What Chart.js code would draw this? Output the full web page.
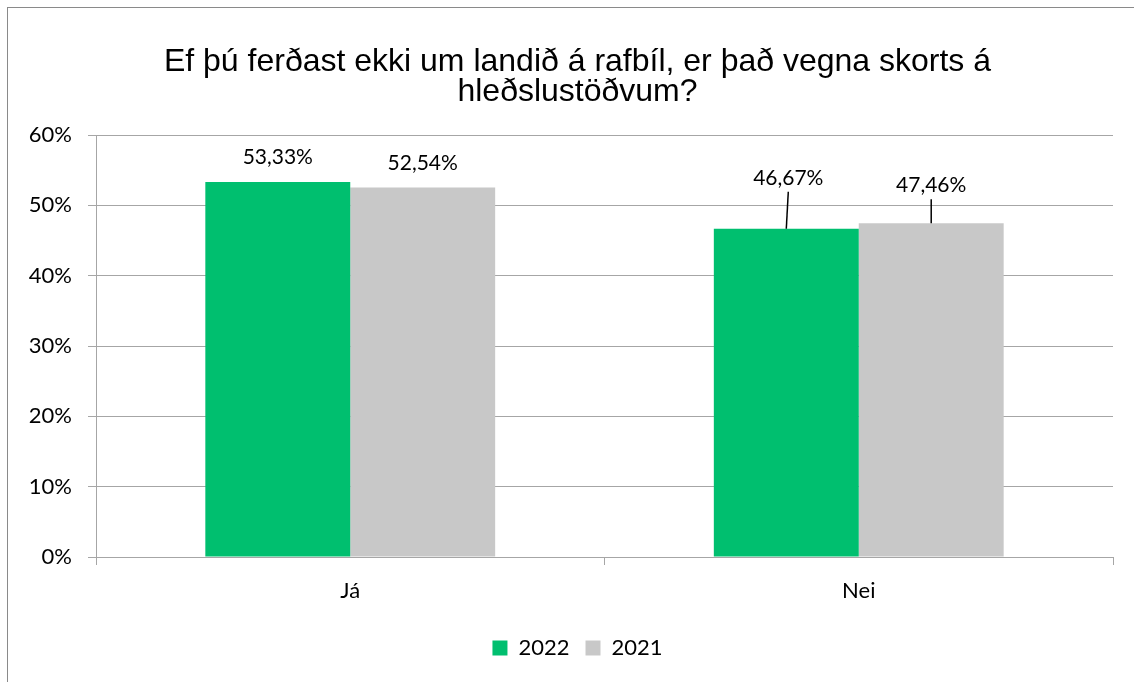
<!DOCTYPE html>
<html>
<head>
<meta charset="utf-8">
<script src="https://cdn.jsdelivr.net/npm/chart.js@4.4.1/dist/chart.umd.min.js"></script>
<style>
  html, body { margin: 0; padding: 0; background: #fff; overflow: hidden; }
  #frame { position: absolute; left: 7px; top: 7px; width: 1200px; height: 800px;
           border-top: 1px solid #8a8a8a; border-left: 1px solid #8a8a8a; }
  #chart { position: absolute; left: 0; top: 0; }
</style>
</head>
<body>
<div id="frame"></div>
<canvas id="chart" width="1134" height="682"></canvas>
<script>
const categories = ['Já', 'Nei'];
const values2022 = [53.33, 46.67];
const values2021 = [52.54, 47.46];
const yMax = 60;
const yStep = 10;
const titleLines = ['Ef þú ferðast ekki um landið á rafbíl, er það vegna skorts á', 'hleðslustöðvum?'];

const GREEN = '#00BF6F';
const GREY = '#C8C8C8';
const AXIS = '#A6A6A6';
const LABEL_FONT = 'Lato, "Open Sans", sans-serif';

// how far above the bar each value label sits (px), per dataset per category
const labelLift = [[25, 51], [24, 38]];
const labelShift = [[0, 2], [0, 0]];

const fmt = v => v.toFixed(2).replace('.', ',') + '%';

const valueLabels = {
  id: 'valueLabels',
  // the y scale box is narrow (so title/legend centre like the original); let its labels spill left
  afterLayout(chart) {
    chart.scales.y.left = 0;
  },
  afterDatasetsDraw(chart) {
    const ctx = chart.ctx;
    ctx.save();
    ctx.font = '21px ' + LABEL_FONT;
    ctx.fillStyle = '#000';
    ctx.textAlign = 'center';
    ctx.textBaseline = 'middle';
    chart.data.datasets.forEach((ds, di) => {
      chart.getDatasetMeta(di).data.forEach((bar, i) => {
        const lift = labelLift[di][i];
        const lx = bar.x + labelShift[di][i];
        const ly = bar.y - lift;
        ctx.fillText(fmt(ds.data[i]), lx, ly);
        if (lift > 30) {
          ctx.strokeStyle = '#000';
          ctx.lineWidth = 1.5;
          ctx.beginPath();
          ctx.moveTo(lx, ly + 14);
          ctx.lineTo(bar.x, bar.y);
          ctx.stroke();
        }
      });
    });
    ctx.restore();
  }
};

new Chart(document.getElementById('chart'), {
  type: 'bar',
  data: {
    labels: categories,
    datasets: [
      { label: '2022', data: values2022, backgroundColor: GREEN },
      { label: '2021', data: values2021, backgroundColor: GREY }
    ]
  },
  options: {
    responsive: false,
    animation: false,
    layout: { padding: { left: 42, right: 21, top: 0, bottom: 13 } },
    datasets: { bar: { categoryPercentage: 0.57, barPercentage: 1.0 } },
    scales: {
      x: {
        grid: { drawOnChartArea: false, drawTicks: true, tickLength: 8, color: AXIS, offset: true },
        border: { color: AXIS, width: 1 },
        ticks: { color: '#000', font: { family: LABEL_FONT, size: 22 }, padding: 13 },
        afterFit: s => { s.height = 64; }
      },
      y: {
        min: 0,
        max: yMax,
        grid: { color: AXIS, tickLength: 8 },
        border: { color: AXIS, width: 1 },
        ticks: {
          stepSize: yStep,
          color: '#000',
          padding: 16,
          font: { family: LABEL_FONT, size: 22 },
          callback: v => v + '%'
        },
        afterFit: s => { s.width = 54; }
      }
    },
    plugins: {
      title: {
        display: true,
        text: titleLines,
        color: '#000',
        font: { family: '"Liberation Sans", Arial, sans-serif', size: 32, weight: 'normal', lineHeight: '30px' },
        padding: { top: 47, bottom: 28 }
      },
      legend: {
        position: 'bottom',
        labels: {
          color: '#000',
          font: { family: LABEL_FONT, size: 22 },
          boxWidth: 15,
          boxHeight: 15,
          padding: 16
        }
      },
      tooltip: { enabled: false }
    }
  },
  plugins: [valueLabels]
});
</script>
</body>
</html>
